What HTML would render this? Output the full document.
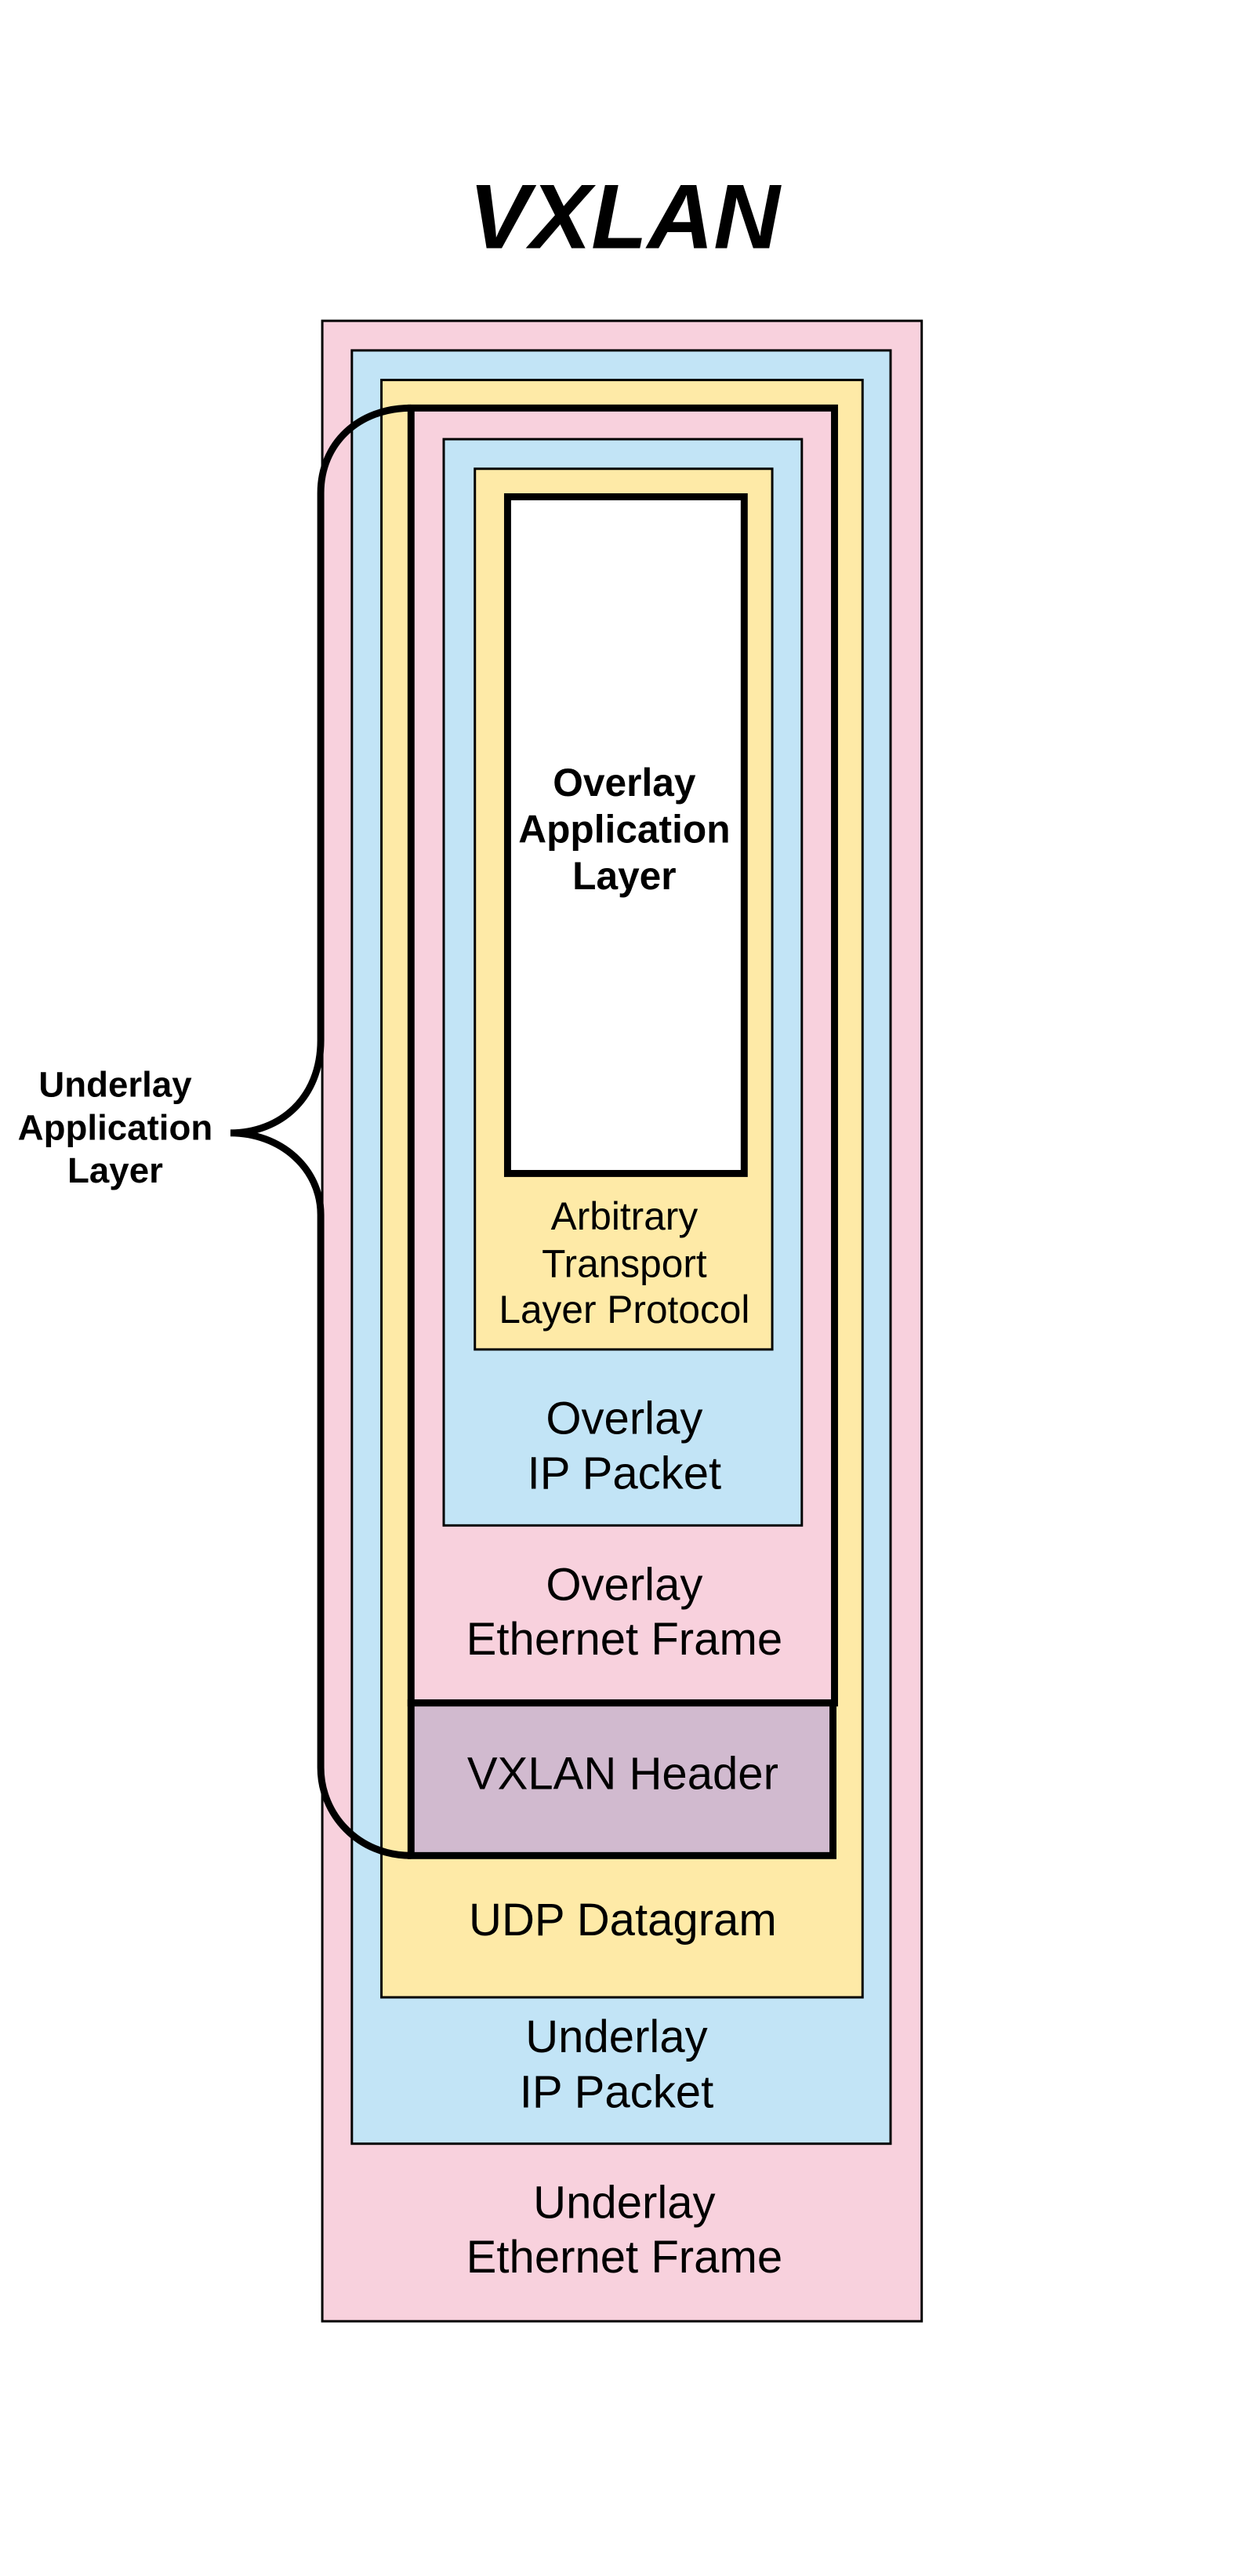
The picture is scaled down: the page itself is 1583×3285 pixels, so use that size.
<!DOCTYPE html>
<html><head><meta charset="utf-8"><style>
html,body{margin:0;padding:0;background:#fff}
svg{display:block}
text{font-family:"Liberation Sans",sans-serif;text-anchor:middle;dominant-baseline:central;fill:#000}
</style></head><body>
<svg width="1583" height="3285" viewBox="0 0 1583 3285" xmlns="http://www.w3.org/2000/svg">
<rect width="1583" height="3285" fill="#fff"/>
<g transform="scale(0.993)">
<text x="802" y="278" font-size="118" font-weight="bold" font-style="italic">VXLAN</text>
<rect x="414" y="412" width="770" height="2569" fill="#f8d1dd" stroke="#000" stroke-width="3"/>
<rect x="452" y="450" width="692" height="2303" fill="#c2e4f6" stroke="#000" stroke-width="3"/>
<rect x="490" y="488" width="618" height="2077" fill="#feeaa7" stroke="#000" stroke-width="3"/>
<rect x="528" y="524" width="544" height="1663" fill="#f8d1dd" stroke="#000" stroke-width="9"/>
<rect x="570" y="564" width="460" height="1395" fill="#c2e4f6" stroke="#000" stroke-width="3"/>
<rect x="610" y="602" width="382" height="1131" fill="#feeaa7" stroke="#000" stroke-width="3"/>
<rect x="652" y="638" width="304" height="869" fill="#fff" stroke="#000" stroke-width="9"/>
<rect x="528" y="2187" width="542" height="196" fill="#d1bacf" stroke="#000" stroke-width="9"/>
<path d="M528 524 C460 524 412 570 412 633 L412 1336 C412 1410 360 1455 296 1455 C360 1455 412 1500 412 1560 L412 2270 C412 2330 460 2383 528 2383" fill="none" stroke="#000" stroke-width="9"/>
<g font-size="50" font-weight="bold">
<text x="802" y="1005">Overlay</text>
<text x="802" y="1065">Application</text>
<text x="802" y="1125">Layer</text>
</g>
<g font-size="46" font-weight="bold">
<text x="148" y="1393">Underlay</text>
<text x="148" y="1448">Application</text>
<text x="148" y="1503">Layer</text>
</g>
<g font-size="50">
<text x="802" y="1562">Arbitrary</text>
<text x="802" y="1623">Transport</text>
<text x="802" y="1682">Layer Protocol</text>
</g>
<g font-size="58.5">
<text x="802" y="1822">Overlay</text>
<text x="802" y="1892">IP Packet</text>
<text x="802" y="2035">Overlay</text>
<text x="802" y="2105">Ethernet Frame</text>
<text x="800" y="2278">VXLAN Header</text>
<text x="800" y="2466">UDP Datagram</text>
<text x="792" y="2616">Underlay</text>
<text x="792" y="2687">IP Packet</text>
<text x="802" y="2829">Underlay</text>
<text x="802" y="2899">Ethernet Frame</text>
</g>
</g>
</svg>
</body></html>
